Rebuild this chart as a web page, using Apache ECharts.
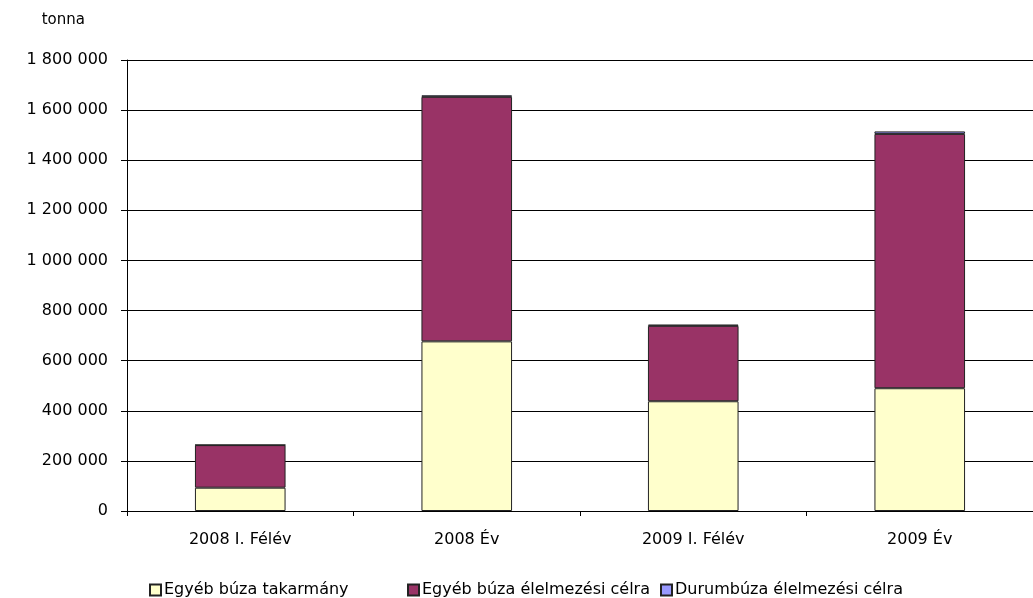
<!DOCTYPE html>
<html><head><meta charset="utf-8">
<script src="https://cdn.jsdelivr.net/npm/echarts@6/dist/echarts.min.js"></script>
<style>html,body{margin:0;padding:0;background:#fff}#c{width:1033px;height:598px}</style>
</head><body><div id="c"></div>
<script>
const categories = ['2008 I. Félév', '2008 Év', '2009 I. Félév', '2009 Év'];
const seriesNames = ['Egyéb búza takarmány', 'Egyéb búza élelmezési célra', 'Durumbúza élelmezési célra'];
const takarmany = [93000, 677000, 438000, 490000];
const elelmezesi = [170000, 976000, 301000, 1015000];
const durum = [1000, 6000, 5000, 10000];
const yTicks = {min: 0, max: 1800000, interval: 200000};
const unitLabel = 'tonna';

const font = 'DejaVu Sans';
const colors = ['#FFFFCC', '#993366', '#9999FF'];
const vals = [takarmany, elelmezesi, durum];

const chart = echarts.init(document.getElementById('c'), null, {renderer: 'canvas'});
chart.setOption({
  animation: false,
  backgroundColor: '#fff',
  grid: {left: 127, top: 60, bottom: 87, width: 908},
  xAxis: {
    type: 'category', data: categories,
    axisLine: {lineStyle: {color: '#000', width: 1}},
    axisTick: {show: true, length: 5, inside: false, lineStyle: {color: '#000'}},
    axisLabel: {color: '#000', fontFamily: font, fontSize: 16, margin: 21}
  },
  yAxis: {
    type: 'value', min: yTicks.min, max: yTicks.max, interval: yTicks.interval,
    name: unitLabel, nameLocation: 'end', nameGap: 32,
    nameTextStyle: {color: '#000', fontFamily: font, fontSize: 15, align: 'right', padding: [0, 42, 0, 0]},
    axisLine: {show: true, lineStyle: {color: '#000', width: 1}},
    axisTick: {show: true, length: 6, lineStyle: {color: '#000'}},
    splitLine: {show: true, lineStyle: {color: '#000', width: 1}},
    axisLabel: {color: '#000', fontFamily: font, fontSize: 16, margin: 19,
      formatter: v => String(v).replace(/\B(?=(\d{3})+(?!\d))/g, ' ')}
  },
  legend: [0, 1, 2].map(i => ({
    data: [seriesNames[i]],
    left: [144, 402, 655][i], top: 577,
    itemWidth: 11, itemHeight: 11, itemGap: 4,
    icon: 'rect',
    textStyle: {color: '#000', fontFamily: font, fontSize: 16, padding: [0, 0, 0, -2]}
  })),
  series: vals.map((d, i) => ({
    name: seriesNames[i], type: 'bar', stack: 'total', data: d,
    barWidth: '40%',
    itemStyle: {color: colors[i], borderColor: '#222', borderWidth: 1}
  }))
});
</script></body></html>
